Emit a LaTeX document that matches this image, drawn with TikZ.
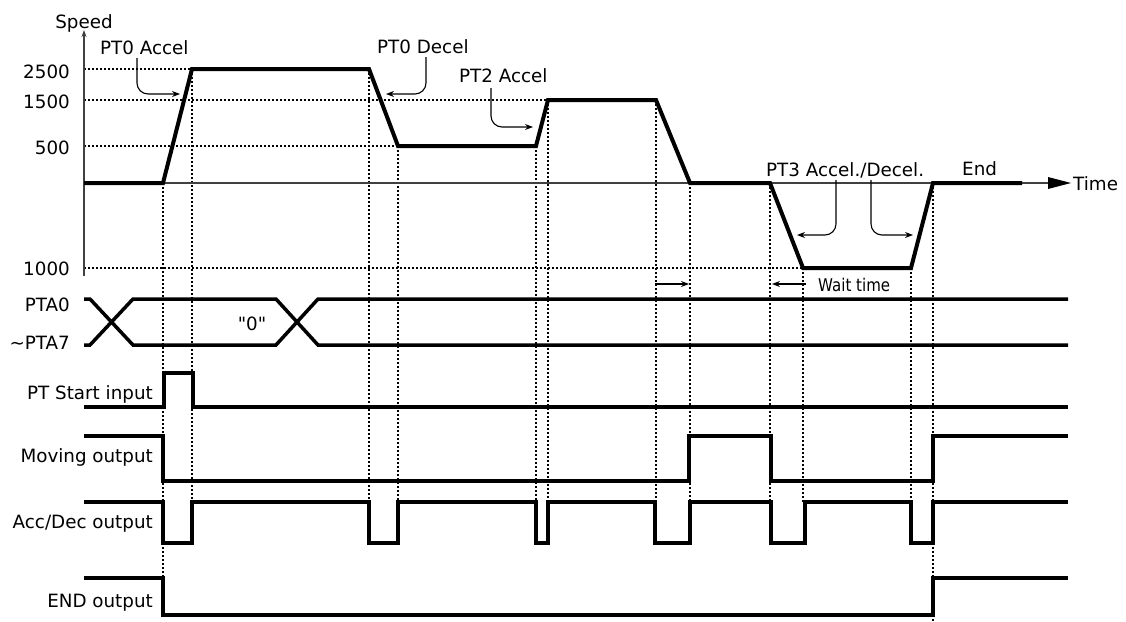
\documentclass[tikz,border=0pt]{standalone}
\usepackage{fontspec}
\setmainfont{DejaVu Sans}
\newfontfamily\qfont{DejaVu Sans}
\usetikzlibrary{arrows.meta}
\begin{document}
\begin{tikzpicture}[x=1pt,y=-1pt,
  font=\fontsize{18.3}{20}\selectfont,
  sig/.style={line width=3.5pt, line join=miter},
  prof/.style={line width=4pt, line join=miter},
  guide/.style={line width=1.1pt, dash pattern=on 2pt off 2pt},
  axisln/.style={line width=1.4pt, black!75},
  ann/.style={line width=1.1pt, rounded corners=11pt, -{Stealth[length=8pt,width=6pt]}},
  wt/.style={line width=1.1pt, -{Stealth[length=8pt,width=6pt]}},
  txt/.style={inner sep=0pt, anchor=base west},
  rlab/.style={inner sep=0pt, anchor=base east},
]
\useasboundingbox (0,0) rectangle (1126,621);

% guides (horizontal)
\draw[guide] (84,69) -- (192,69);
\draw[guide] (84,100) -- (548,100);
\draw[guide] (84,146) -- (398,146);
\draw[guide] (84,268) -- (803,268);

% guides (vertical)
\draw[guide] (163,183) -- (163,578);
\draw[guide] (192,69) -- (192,502);
\draw[guide] (369,69) -- (369,502);
\draw[guide] (398,146) -- (398,502);
\draw[guide] (536,146) -- (536,502);
\draw[guide] (548,100) -- (548,502);
\draw[guide] (656,100) -- (656,502);
\draw[guide] (690,183) -- (690,502);
\draw[guide] (770,183) -- (770,502);
\draw[guide] (803,268) -- (803,502);
\draw[guide] (911,268) -- (911,502);
\draw[guide] (933,183) -- (933,621);

% axes
\draw[axisln, -{Stealth[length=7pt,width=5pt]}] (84,276) -- (84,30);
\draw[axisln] (84,183) -- (1050,183);
\fill (1048,177) -- (1071,183) -- (1048,189) -- cycle;

% speed profile
\draw[prof] (84,183) -- (163,183) -- (192,69) -- (369,69) -- (398,146) -- (536,146)
  -- (548,100) -- (656,100) -- (690,183) -- (770,183) -- (803,268) -- (911,268)
  -- (933,183) -- (1022,183);

% labels on axes
\node[inner sep=0pt, anchor=base] (speed) at (84,28) {Speed};
\node[txt] (time) at (1073,190) {Time};
\node[rlab] (v2500) at (70,78) {2500};
\node[rlab] (v1500) at (70,108) {1500};
\node[rlab] (v500) at (70,154) {500};
\node[rlab] (v1000) at (70,275) {1000};

% annotations
\node[txt] (pt0a) at (100,54) {PT0 Accel};
\draw[ann] (137,58) -- (137,94) -- (180,94);
\node[txt] (pt0d) at (377,53) {PT0 Decel};
\draw[ann] (426,57) -- (426,94) -- (386,94);
\node[txt] (pt2a) at (459,82) {PT2 Accel};
\draw[ann] (491,88) -- (491,127) -- (533,127);
\node[txt] (pt3) at (766,176) {PT3 Accel./Decel.};
\draw[ann] (836,180) -- (836,235) -- (797,235);
\draw[ann] (871,180) -- (871,235) -- (913,235);
\node[txt] (endl) at (962,175) {End};

% wait time
\draw[wt] (655,284) -- (689,284);
\draw[wt] (806,284) -- (772,284);
\node[txt, font=\fontsize{17.5}{20}\selectfont\addfontfeature{FakeStretch=0.86}] (wait) at (818,291) {Wait time};

% PTA bus
\draw[sig] (84,299) -- (90,299) -- (133,345) -- (276,345) -- (318,299) -- (1068,299);
\draw[sig] (84,345) -- (90,345) -- (133,299) -- (276,299) -- (318,345) -- (1068,345);
\node[inner sep=0pt, anchor=base, font=\qfont\fontsize{18.3}{20}\selectfont] (zero) at (252,330) {"0"};
\node[rlab] (pta0) at (70,311) {PTA0};
\node[rlab] (pta7) at (70,349) {\char"007EPTA7};

% PT Start input
\draw[sig] (84,407) -- (164,407) -- (164,373) -- (193,373) -- (193,407) -- (1068,407);
\node[rlab] (ptstart) at (153,399) {PT Start input};

% Moving output
\draw[sig] (84,436) -- (163,436) -- (163,481) -- (689,481) -- (689,436) -- (771,436)
  -- (771,481) -- (933,481) -- (933,436) -- (1068,436);
\node[rlab] (moving) at (153,462) {Moving output};

% Acc/Dec output
\draw[sig] (84,502) -- (163,502) -- (163,543) -- (192,543) -- (192,502) -- (369,502)
  -- (369,543) -- (398,543) -- (398,502) -- (536,502) -- (536,543) -- (548,543)
  -- (548,502) -- (655,502) -- (655,543) -- (690,543) -- (690,502) -- (771,502)
  -- (771,543) -- (805,543) -- (805,502) -- (911,502) -- (911,543) -- (933,543)
  -- (933,502) -- (1068,502);
\node[rlab] (accdec) at (153,528) {Acc/Dec output};

% END output
\draw[sig] (84,578) -- (163,578) -- (163,615) -- (933,615) -- (933,578) -- (1068,578);
\node[rlab] (endout) at (153,607) {END output};
\end{tikzpicture}
\end{document}
